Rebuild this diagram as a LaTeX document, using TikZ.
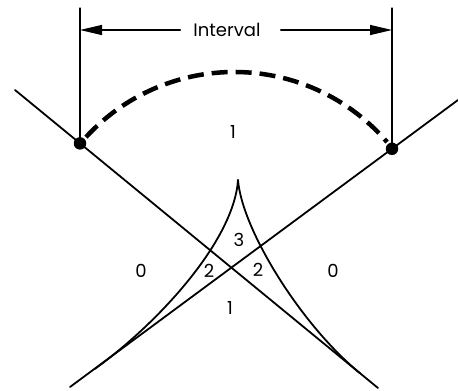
\documentclass[tikz,border=0pt]{standalone}
\usepackage{fontspec}
\setmainfont{Poppins}
\usetikzlibrary{arrows.meta}
\begin{document}
\begin{tikzpicture}[x=1pt,y=1pt, line cap=round,
  ray/.style={line width=1.8pt},
  caustic/.style={line width=1.8pt},
  dotnode/.style={circle,fill=black,inner sep=0pt,minimum size=12.5pt},
  lbl/.style={font=\fontsize{18}{18}\selectfont, inner sep=0pt},
  dimline/.style={line width=1.3pt},
  dimarrow/.style={line width=1.3pt,-{Triangle[length=22pt,width=10pt]}},
  arcdash/.style={line width=4.5pt, dash pattern=on 16pt off 8pt, line cap=butt}]
\useasboundingbox (0,0) rectangle (458,391);
% rays
\coordinate (A1) at (15,301);
\coordinate (A2) at (378,3);
\coordinate (B1) at (458,291);
\coordinate (B2) at (70,4);
\draw[ray] (A1) -- (A2);
\draw[ray] (B1) -- (B2);
% end points of the interval
\node[dotnode] (P) at (80,247.6) {};
\node[dotnode] (Q) at (392,242.2) {};
% dimension lines
\coordinate (PT) at (80,383);
\coordinate (QT) at (392,383);
\draw[dimline] (P.center) -- (PT);
\draw[dimline] (Q.center) -- (QT);
\node[lbl] (I) at (227,361) {Interval};
\coordinate (PA) at (80,361);
\coordinate (QA) at (392,361);
\draw[dimarrow, shorten <=13pt] (I.west) -- (PA);
\draw[dimarrow, shorten <=20pt] (I.east) -- (QA);
% dashed arc
\draw[arcdash] (86,253.9) arc[start angle=137.4, end angle=40.7, radius=201.5];
% caustic (cusp)
\coordinate (apex) at (238,211);
\coordinate (CL) at (95,22.2);
\coordinate (CR) at (360,17.8);
\draw[caustic] (apex) .. controls (234,151) and (159.8,69.2) .. (CL);
\draw[caustic] (apex) .. controls (242,161) and (301.6,65.4) .. (CR);
% region labels
\node[lbl] (l1top) at (233,259) {1};
\node[lbl] (l3) at (239,151) {3};
\node[lbl] (l2l) at (209,120) {2};
\node[lbl] (l2r) at (258,121) {2};
\node[lbl] (l1bot) at (230,83) {1};
\node[lbl] (l0l) at (141,120) {0};
\node[lbl] (l0r) at (333,120) {0};
\end{tikzpicture}
\end{document}
